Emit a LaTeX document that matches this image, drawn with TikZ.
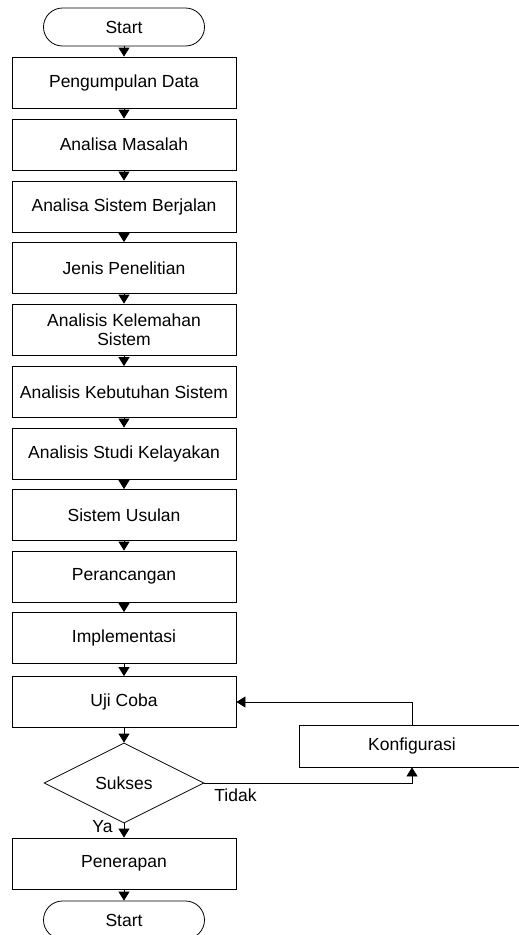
\documentclass[tikz,border=0pt]{standalone}
\usepackage{fontspec}
\setmainfont{Liberation Sans}
\usetikzlibrary{arrows.meta,shapes.geometric}
\begin{document}
\begin{tikzpicture}[x=1pt,y=-1pt,
  font=\fontsize{17.5}{19}\selectfont,
  line width=0.8pt,
  every node/.style={inner sep=0pt},
  box/.style={draw, rectangle, minimum width=224pt, minimum height=51pt, align=center},
  term/.style={draw, rectangle, rounded corners=19pt, minimum width=161pt, minimum height=38pt},
  decision/.style={draw, diamond, minimum width=160pt, minimum height=80pt},
  arr/.style={-{Triangle[width=11pt,length=9pt]}}
]
\clip (0,0) rectangle (519,935);
\node[term] (s) at (124,27) {Start};
\node[box] (b1) at (124,82.5) {Pengumpulan Data};
\node[box] (b2) at (124,144.5) {Analisa Masalah};
\node[box] (b3) at (124,206.5) {Analisa Sistem Berjalan};
\node[box] (b4) at (124,268) {Jenis Penelitian};
\node[box] (b5) at (124,329.5) {Analisis Kelemahan\\Sistem};
\node[box] (b6) at (124,392) {Analisis Kebutuhan Sistem};
\node[box] (b7) at (124,453.5) {Analisis Studi Kelayakan};
\node[box] (b8) at (124,515) {Sistem Usulan};
\node[box] (b9) at (124,576.5) {Perancangan};
\node[box] (b10) at (124,638) {Implementasi};
\node[box] (b11) at (124,702) {Uji Coba};
\node[decision] (d) at (124,783) {Sukses};
\node[box] (b12) at (124,863.5) {Penerapan};
\node[term] (e) at (124,920) {Start};
\node[draw, rectangle, minimum width=226pt, minimum height=42pt] (k) at (412,746) {Konfigurasi};
\foreach \a/\b in {s/b1,b1/b2,b2/b3,b3/b4,b4/b5,b5/b6,b6/b7,b7/b8,b8/b9,b9/b10,b10/b11,b11/d,d/b12,b12/e}
  \draw[arr] (\a) -- (\b);
\draw[arr] (d.east) -| (k.south);
\draw[arr] (k.north) |- (b11.east);
\node[anchor=west] (tidak) at (214,795) {Tidak};
\node[anchor=east] (ya) at (113,827) {Ya};
\end{tikzpicture}
\end{document}
